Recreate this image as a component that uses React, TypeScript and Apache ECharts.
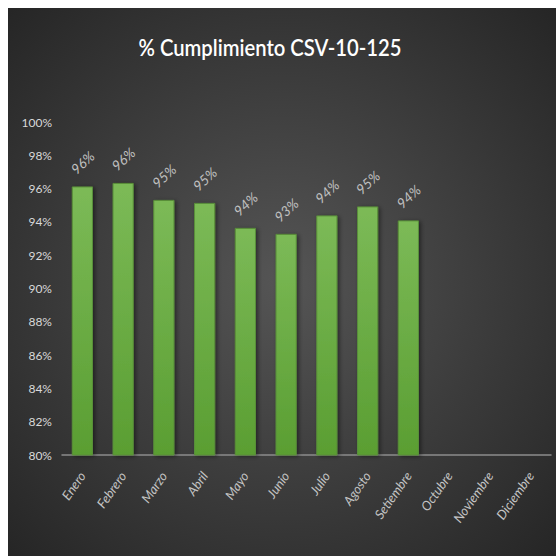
import React, { useEffect, useRef } from "react";
import * as echarts from "echarts";

const titleText = "% Cumplimiento CSV-10-125";
const categories = ["Enero", "Febrero", "Marzo", "Abril", "Mayo", "Junio", "Julio", "Agosto", "Setiembre", "Octubre", "Noviembre", "Diciembre"];
const values: (number | null)[] = [96.13, 96.34, 95.32, 95.14, 93.64, 93.28, 94.39, 94.93, 94.09, null, null, null];
const yMin = 80;
const yMax = 100;
const yStep = 2;

export default function App() {
  const ref = useRef<HTMLDivElement>(null);
  useEffect(() => {
    if (!ref.current) return;
    const chart = echarts.init(ref.current, null, { renderer: "svg" });
    chart.setOption({
      animation: false,
      backgroundColor: "#3a3a3a",
      graphic: [
        {
          type: "rect",
          silent: true,
          z: -10,
          shape: { x: 0, y: 0, width: 548, height: 548 },
          style: {
            fill: new echarts.graphic.RadialGradient(0.5, 0.5, 0.7, [
              { offset: 0, color: "#555555" },
              { offset: 1, color: "#262626" },
            ]),
          },
        },
        {
          type: "text",
          silent: true,
          x: 262,
          y: 40,
          scaleX: 0.88,
          style: {
            text: titleText,
            fill: "#ffffff",
            font: "600 23px Lato",
            align: "center",
            verticalAlign: "middle",
            shadowColor: "rgba(0,0,0,0.85)",
            shadowBlur: 4,
            shadowOffsetX: 1,
            shadowOffsetY: 2,
          },
        },
      ],
      grid: { left: 54, right: 5, top: 114, bottom: 101, containLabel: false },
      xAxis: {
        type: "category",
        data: categories,
        axisLine: { show: true, lineStyle: { color: "#8c8c8c", width: 1.5 } },
        axisTick: { show: false },
        axisLabel: {
          rotate: 55,
          interval: 0,
          margin: 18,
          color: "#c4c4c4",
          fontStyle: "italic",
          fontFamily: "Lato",
          fontSize: 13,
        },
      },
      yAxis: {
        type: "value",
        min: yMin,
        max: yMax,
        interval: yStep,
        axisLine: { show: false },
        axisTick: { show: false },
        splitLine: { show: false },
        axisLabel: {
          margin: 10,
          color: "#d9d9d9",
          fontFamily: "Lato",
          fontSize: 12,
          formatter: (v: number) => v + "%",
        },
      },
      series: [
        {
          type: "bar",
          data: values,
          barWidth: "52%",
          itemStyle: {
            color: new echarts.graphic.LinearGradient(0, 0, 0, 1, [
              { offset: 0, color: "#7cba57" },
              { offset: 1, color: "#5a9e32" },
            ]),
            borderColor: "#5a8f3a",
            borderWidth: 1,
            shadowColor: "rgba(0,0,0,0.45)",
            shadowBlur: 4,
            shadowOffsetX: 2,
            shadowOffsetY: 1,
          },
          label: {
            show: true,
            position: "top",
            distance: 24,
            rotate: 42,
            align: "center",
            verticalAlign: "middle",
            color: "#c0c0c0",
            fontStyle: "italic",
            fontFamily: "Lato",
            fontSize: 14,
            formatter: (p: any) => Math.round(p.value) + "%",
          },
          labelLayout: { rotate: 42 },
        },
      ],
    });
    return () => chart.dispose();
  }, []);
  return (
    <div
      ref={ref}
      style={{ position: "fixed", left: 8, top: 8, width: 548, height: 548 }}
    />
  );
}
